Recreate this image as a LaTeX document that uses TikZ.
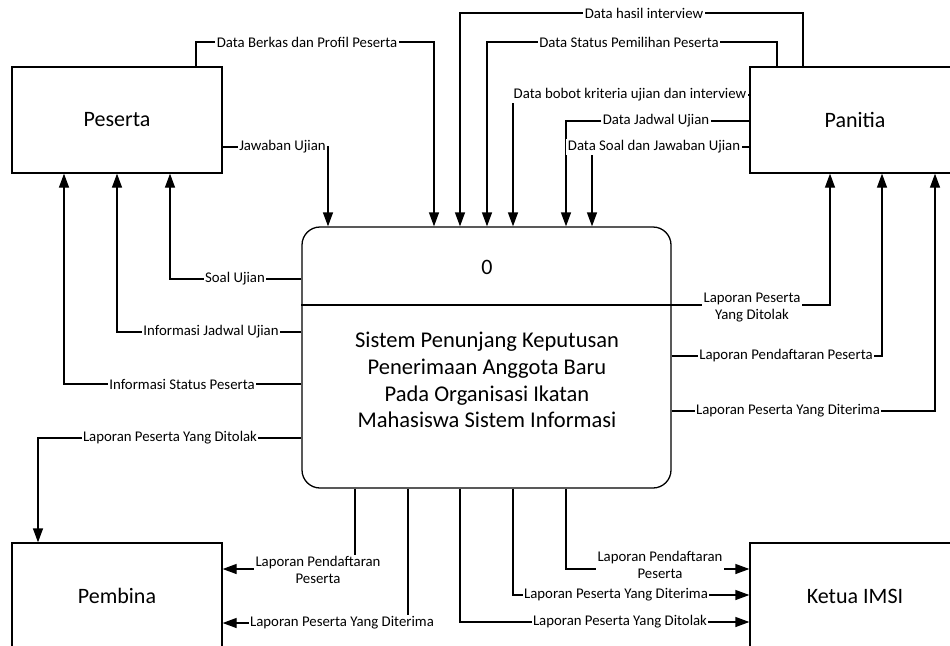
\documentclass[tikz,border=0pt]{standalone}
\usepackage{fontspec}
\setmainfont{Carlito}
\usetikzlibrary{arrows.meta}
\begin{document}
\begin{tikzpicture}[x=1pt,y=-1pt,
  box/.style={draw, line width=1.3pt, minimum width=210pt, minimum height=106pt, inner sep=0pt, font=\fontsize{22}{26}\selectfont},
  flow/.style={line width=1.3pt, -{Triangle[length=14pt,width=10pt]}},
  plain/.style={line width=1.3pt},
  lbl/.style={fill=white, inner sep=1.5pt, font=\fontsize{14.8}{17}\selectfont, align=center}]
\useasboundingbox (0,0) rectangle (950,645);
\clip (0,0) rectangle (950,645);

% entities
\node[box] (peserta) at (117,120) {Peserta};
\node[box] (panitia) at (855,120) {Panitia};
\node[box] (pembina) at (117,596) {Pembina};
\node[box] (ketua) at (855,596) {Ketua IMSI};

% process
\node[draw, line width=1.3pt, rounded corners=18pt, minimum width=369pt, minimum height=261pt] (proc) at (486.5,357.5) {};
\coordinate (dv) at (0,305);
\draw[plain] (proc.west |- dv) -- (proc.east |- dv);
\node[font=\fontsize{22}{26}\selectfont] (pid) at (487,267) {0};
\node[font=\fontsize{22.5}{26.7}\selectfont, align=center] (pname) at (487,380)
  {Sistem Penunjang Keputusan\\Penerimaan Anggota Baru\\Pada Organisasi Ikatan\\Mahasiswa Sistem Informasi};

% bend coordinates
\coordinate (s1) at (196,42);  \coordinate (c1) at (434,42);
\coordinate (c2) at (328,147);
\coordinate (s3) at (803,13);  \coordinate (c3) at (460,13);
\coordinate (s4) at (777,42);  \coordinate (c4) at (487,42);
\coordinate (c5) at (513,95);
\coordinate (c6) at (566,121);
\coordinate (c7) at (592,147);
\coordinate (c8) at (170,279);
\coordinate (c9) at (117,332);
\coordinate (c10) at (64,384);
\coordinate (c11) at (38,438);
\coordinate (c12) at (830,305);
\coordinate (c13) at (882,356);
\coordinate (c14) at (935,411);
\coordinate (c15) at (355,569);
\coordinate (c16) at (408,623);
\coordinate (c17) at (566,569);
\coordinate (c18) at (513,595);
\coordinate (c19) at (460,622);

% flows into process
\draw[flow] (peserta.north -| s1) |- (c1) -- (c1 |- proc.north);
\draw[flow] (peserta.east |- c2) -- (c2) -- (c2 |- proc.north);
\draw[flow] (panitia.north -| s3) |- (c3) -- (c3 |- proc.north);
\draw[flow] (panitia.north -| s4) |- (c4) -- (c4 |- proc.north);
\draw[flow] (panitia.west |- c5) -- (c5) -- (c5 |- proc.north);
\draw[flow] (panitia.west |- c6) -- (c6) -- (c6 |- proc.north);
\draw[flow] (panitia.west |- c7) -- (c7) -- (c7 |- proc.north);

% flows to peserta / pembina (left)
\draw[flow] (proc.west |- c8) -- (c8) -- (c8 |- peserta.south);
\draw[flow] (proc.west |- c9) -- (c9) -- (c9 |- peserta.south);
\draw[flow] (proc.west |- c10) -- (c10) -- (c10 |- peserta.south);
\draw[flow] (proc.west |- c11) -- (c11) -- (c11 |- pembina.north);

% flows to panitia (right)
\draw[flow] (proc.east |- c12) -- (c12) -- (c12 |- panitia.south);
\draw[flow] (proc.east |- c13) -- (c13) -- (c13 |- panitia.south);
\draw[flow] (proc.east |- c14) -- (c14) -- (c14 |- panitia.south);

% flows from bottom
\draw[flow] (proc.south -| c15) -- (c15) -- (c15 -| pembina.east);
\draw[flow] (proc.south -| c16) -- (c16) -- (c16 -| pembina.east);
\draw[flow] (proc.south -| c17) -- (c17) -- (c17 -| ketua.west);
\draw[flow] (proc.south -| c18) -- (c18) -- (c18 -| ketua.west);
\draw[flow] (proc.south -| c19) -- (c19) -- (c19 -| ketua.west);

% labels
\node[lbl] (l1) at (307,42) {Data Berkas dan Profil Peserta};
\node[lbl] (l2) at (282.5,147) {Jawaban Ujian};
\node[lbl] (l3) at (644,13) {Data hasil interview};
\node[lbl] (l4) at (629,42) {Data Status Pemilihan Peserta};
\node[lbl] (l5) at (630,95) {Data bobot kriteria ujian dan interview};
\node[lbl] (l6) at (656,121) {Data Jadwal Ujian};
\node[lbl] (l7) at (654,147) {Data Soal dan Jawaban Ujian};
\node[lbl] (l8) at (235,279) {Soal Ujian};
\node[lbl] (l9) at (211,332) {Informasi Jadwal Ujian};
\node[lbl] (l10) at (182,384) {Informasi Status Peserta};
\node[lbl] (l11) at (170,438) {Laporan Peserta Yang Ditolak};
\node[lbl] (l12) at (752,308) {Laporan Peserta\\Yang Ditolak};
\node[lbl] (l13) at (786,356) {Laporan Pendaftaran Peserta};
\node[lbl] (l14) at (788,411) {Laporan Peserta Yang Diterima};
\node[lbl] (l15) at (318,570) {Laporan Pendaftaran\\Peserta};
\node[lbl] (l16) at (342,623) {Laporan Peserta Yang Diterima};
\node[lbl] (l17) at (660,565) {Laporan Pendaftaran\\Peserta};
\node[lbl] (l18) at (616,595) {Laporan Peserta Yang Diterima};
\node[lbl] (l19) at (620,622) {Laporan Peserta Yang Ditolak};
\end{tikzpicture}
\end{document}
